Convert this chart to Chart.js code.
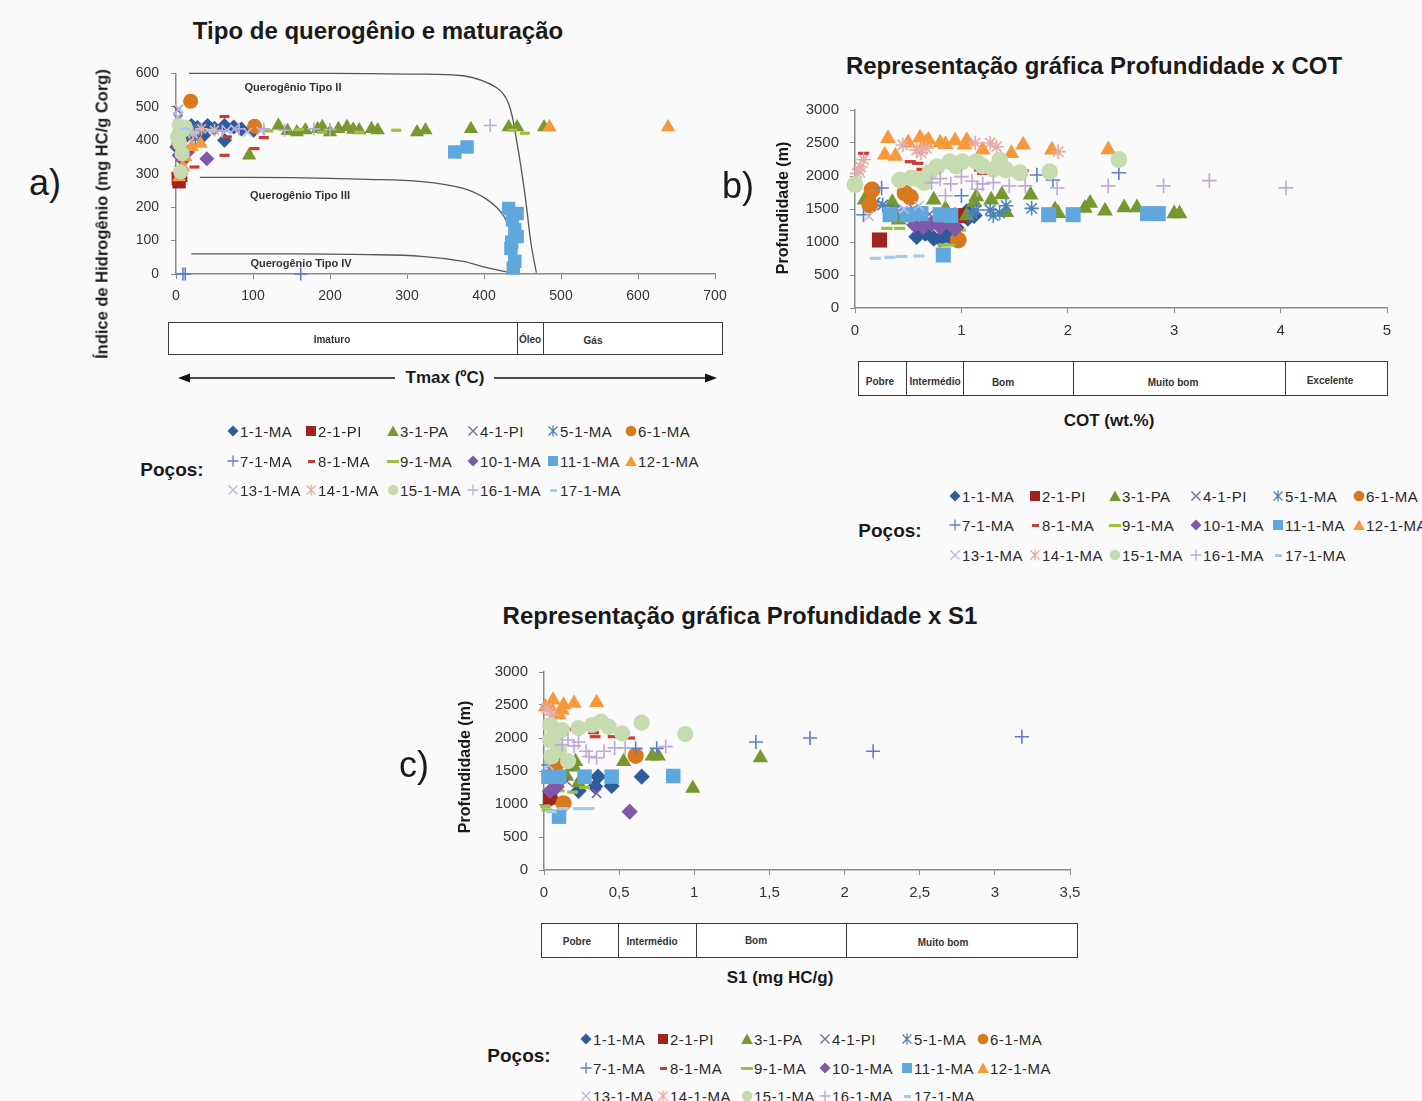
<!DOCTYPE html>
<html><head><meta charset="utf-8">
<script src="https://cdn.jsdelivr.net/npm/chart.js@4.4.0/dist/chart.umd.min.js"></script>
<style>
html,body{margin:0;padding:0}
body{background:#fafafa;width:1422px;height:1101px;overflow:hidden;position:relative;font-family:"Liberation Sans",Arial,sans-serif;color:#1a1a1a}
canvas{position:absolute}
.t{position:absolute;white-space:nowrap;transform:translate(-50%,-50%)}
.box{position:absolute;border:1px solid #3a3a3a;box-sizing:border-box;background:#fff}
.div{position:absolute;top:0;bottom:0;border-left:1px solid #3a3a3a}
.lg{position:absolute;white-space:nowrap;font-size:15px;letter-spacing:0.5px;color:#2a2a2a;transform:translateY(-50%)}
</style>
</head><body>
<script>
// ---------- categories / series ----------
const wells = ['1-1-MA','2-1-PI','3-1-PA','4-1-PI','5-1-MA','6-1-MA','7-1-MA','8-1-MA','9-1-MA','10-1-MA','11-1-MA','12-1-MA','13-1-MA','14-1-MA','15-1-MA','16-1-MA','17-1-MA'];
const wellColors = ['#2f5a9c','#a0231f','#76982f','#7e65a0','#4a82b8','#d9791d','#5b7fd0','#c93b33','#9cc13f','#7f58a8','#5fa7dc','#f7983a','#b7bbe2','#e6aba8','#c6dcb0','#bcaad6','#a5cce9'];
const wellMarkers = ['rectRot','rect','triangle','crossRot','star','circle','cross','line','line','rectRot','rect','triangle','crossRot','star','circle','cross','line'];

// tick labels
const ticksA_x = [0,100,200,300,400,500,600,700];
const ticksA_y = [0,100,200,300,400,500,600];
const ticksB_x = [0,1,2,3,4,5];
const ticksDepth = [0,500,1000,1500,2000,2500,3000];
const ticksC_x = [0,0.5,1,1.5,2,2.5,3,3.5];

// ---------- a) Tmax (ºC) x HI (mg HC/g Corg) ----------
const a_w01 = [[20,444],[41,444],[63,400],[63,444],[85,434],[101,430],[12,410],[6,430],[1,380],[36,415],[50,436],[75,440],[28,438]];
const a_w02 = [[3,286],[4,276],[6,295]];
const a_w03 = [[95,355],[133,444],[157,424],[168,430],[184,434],[200,424],[211,434],[222,440],[238,430],[254,434],[262,430],[313,424],[324,430],[383,434],[432,439],[443,439],[478,439],[145,428],[230,432],[190,440]];
const a_w04 = [[3,464],[4,310],[2,490],[10,430]];
const a_w05 = [[4,424],[17,430],[25,405],[8,415],[30,432]];
const a_w06 = [[19,517],[102,442],[4,390]];
const a_w07 = [[12,0],[162,0],[9,0]];
const a_w08 = [[63,471],[102,375],[63,355],[24,320],[114,408],[66,410],[40,430]];
const a_w09 = [[437,430],[453,421],[238,424],[286,430],[190,424],[120,428],[160,432]];
const a_w10 = [[40,345],[4,355],[9,340],[15,365]];
const a_w11 = [[362,365],[378,380],[432,196],[437,162],[443,112],[435,77],[440,38],[438,18],[443,181],[440,132],[436,95]];
const a_w12 = [[485,439],[639,439],[32,390],[9,320],[12,350],[4,290],[20,380]];
const a_w13 = [[4,494],[66,430],[93,424],[76,434],[2,470],[110,428]];
const a_w14 = [[12,424],[33,434],[50,430],[22,420]];
const a_w15 = [[4,444],[5,390],[6,305],[9,430],[2,410],[8,360],[12,440]];
const a_w16 = [[408,444],[114,434],[141,430],[179,434],[82,434],[60,428],[200,432]];
const a_w17 = [[12,434],[23,424],[45,430]];
// kerogen type boundary curves (Tmax, HI)
const curveTipoII  = [[17,600],[100,600],[200,600],[300,598],[373,593],[416,558],[432,509],[443,390],[453,241],[461,92],[468,4]];
const curveTipoIII = [[31,289],[150,288],[250,283],[319,276],[373,256],[405,221],[426,172],[437,102],[440,3]];
const curveTipoIV  = [[20,60],[150,60],[250,58],[319,53],[373,38],[405,18],[437,3]];

// ---------- b) COT (wt.%) x Profundidade (m) ----------
const b_w01 = [[0.58,1080],[0.74,1055],[0.86,1105],[1.05,1460],[1.06,1359],[0.95,1220],[0.66,1130],[0.8,1040],[0.9,1070],[1.12,1400]];
const b_w02 = [[0.23,1030],[0.98,1400]];
const b_w03 = [[0.09,1636],[0.41,1333],[0.74,1636],[1.14,1686],[1.28,1636],[1.38,1716],[1.65,1712],[1.91,1434],[1.88,1490],[2.16,1513],[2.21,1590],[2.35,1470],[2.53,1520],[2.65,1520],[3.0,1430],[3.05,1430],[0.35,1600],[0.85,1500],[1.05,1400],[1.42,1450],[1.12,1600]];
const b_w04 = [[0.38,1485],[0.63,1400],[0.55,1500],[0.9,1450],[0.7,1420]];
const b_w05 = [[0.36,1485],[0.58,1450],[1.14,1485],[1.27,1485],[1.36,1440],[1.66,1510],[1.1,1430],[0.19,1600],[0.26,1560],[1.3,1400],[1.42,1550]];
const b_w06 = [[0.16,1788],[0.14,1560],[0.47,1742],[0.97,1030],[0.52,1680]];
const b_w07 = [[0.25,1818],[0.08,1414],[1.71,2015],[1.86,1939],[2.48,2050],[1.0,1700]];
const b_w08 = [[0.08,2343],[0.52,2217],[0.59,2192],[0.63,2101],[1.17,2091],[1.25,2080],[1.34,2050],[1.58,2080],[1.2,2040]];
const b_w09 = [[0.3,1207],[0.42,1207],[0.99,1180],[0.89,955],[0.83,955],[0.6,1220]];
const b_w10 = [[0.56,1258],[0.64,1230],[0.72,1280],[0.8,1230],[0.91,1280],[0.94,1200]];
const b_w11 = [[0.33,1414],[0.49,1414],[0.8,1414],[0.83,803],[1.82,1414],[2.05,1414],[2.75,1430],[2.85,1430],[0.62,1430],[0.9,1400]];
const b_w12 = [[0.31,2571],[0.28,2318],[0.5,2500],[0.61,2576],[0.69,2545],[0.8,2500],[0.94,2535],[1.03,2470],[1.2,2394],[1.47,2343],[1.58,2470],[1.85,2394],[2.38,2400],[0.38,2300],[0.85,2480],[1.05,2540],[0.66,2500]];
const b_w13 = [[0.13,1390],[0.46,1500],[0.05,2050],[0.6,1550]];
const b_w14 = [[0.05,2141],[0.02,2040],[0.45,2470],[0.58,2394],[0.67,2420],[1.13,2500],[1.27,2500],[1.33,2444],[1.91,2369],[0.62,2350],[0.08,2250]];
const b_w15 = [[0.0,1868],[0.42,1939],[0.53,1970],[0.77,2141],[0.89,2217],[1.01,2217],[1.14,2217],[1.36,2242],[1.42,2091],[1.83,2066],[2.48,2250],[0.6,1950],[0.7,2050],[0.95,2150],[1.2,2150],[1.3,2100],[1.55,2050],[0.65,1900]];
const b_w16 = [[0.72,1900],[0.8,1960],[0.9,1880],[1.0,1990],[1.1,1920],[1.2,1880],[1.3,1900],[1.45,1850],[1.6,1850],[1.9,1818],[2.38,1850],[2.9,1850],[3.33,1930],[4.05,1820],[0.85,1700],[1.15,1800]];
const b_w17 = [[0.19,753],[0.33,768],[0.44,780],[0.6,788]];

// ---------- c) S1 (mg HC/g) x Profundidade (m) ----------
const c_w01 = [[0.36,1414],[0.65,1414],[0.45,1273],[0.34,1264],[0.05,1086],[0.23,1200]];
const c_w02 = [[0.04,1100]];
const c_w03 = [[0.21,1641],[0.53,1641],[0.72,1727],[0.76,1727],[0.99,1238],[1.44,1700],[0.15,1420],[0.09,1320],[0.23,1320],[0.2,1560]];
const c_w04 = [[0.35,1162],[0.15,1350]];
const c_w05 = [[0.03,1590],[0.07,1520]];
const c_w06 = [[0.61,1730],[0.13,1010],[0.08,1600]];
const c_w07 = [[0.61,1843],[0.75,1843],[1.41,1940],[1.77,2000],[2.19,1800],[3.18,2020]];
const c_w08 = [[0.18,2131],[0.23,2121],[0.33,2080],[0.46,2020],[0.57,2000],[0.34,2020]];
const c_w09 = [[0.01,960],[0.02,910],[0.1,1200],[0.19,1180],[0.27,1250]];
const c_w10 = [[0.57,883],[0.04,1197],[0.08,1250]];
const c_w11 = [[0.03,1414],[0.1,1414],[0.27,1414],[0.45,1414],[0.86,1424],[0.1,808]];
const c_w12 = [[0.01,2474],[0.06,2576],[0.12,2424],[0.13,2500],[0.2,2525],[0.35,2535],[0.1,2350],[0.04,2470]];
const c_w13 = [[0.02,2450],[0.03,1591]];
const c_w14 = [[0.02,2450],[0.05,2350]];
const c_w15 = [[0.04,2197],[0.04,1970],[0.05,1720],[0.1,1818],[0.32,2197],[0.38,2247],[0.43,2170],[0.52,2071],[0.65,2232],[0.94,2060],[0.12,2120],[0.23,2150],[0.16,1650],[0.08,2050]];
const c_w16 = [[0.16,1970],[0.23,1940],[0.2,1880],[0.3,1720],[0.35,1700],[0.47,1850],[0.54,1850],[0.81,1870],[0.12,1900],[0.28,1800],[0.4,1800]];
const c_w17 = [[0.05,883],[0.13,930],[0.23,930],[0.3,930]];

const seriesA = [a_w01,a_w02,a_w03,a_w04,a_w05,a_w06,a_w07,a_w08,a_w09,a_w10,a_w11,a_w12,a_w13,a_w14,a_w15,a_w16,a_w17];
const seriesB = [b_w01,b_w02,b_w03,b_w04,b_w05,b_w06,b_w07,b_w08,b_w09,b_w10,b_w11,b_w12,b_w13,b_w14,b_w15,b_w16,b_w17];
const seriesC = [c_w01,c_w02,c_w03,c_w04,c_w05,c_w06,c_w07,c_w08,c_w09,c_w10,c_w11,c_w12,c_w13,c_w14,c_w15,c_w16,c_w17];

// ---------- helpers ----------
const FONT = '"Liberation Sans", Arial, sans-serif';
const markerSize = {rectRot:7.5, rect:9.5, triangle:8.2, crossRot:6, star:6.5, circle:7.5, cross:6.5, line:5};
function wellDatasets(series, scale){
  return series.map((pts,i)=>{
    const st = wellMarkers[i];
    const stroke = (st==='cross'||st==='crossRot'||st==='star'||st==='line');
    return {
      label: wells[i],
      data: pts.map(p=>({x:p[0], y:p[1]})),
      pointStyle: st,
      pointRadius: markerSize[st]*scale,
      pointBackgroundColor: wellColors[i],
      pointBorderColor: wellColors[i],
      pointBorderWidth: st==='line' ? 3.2 : (stroke ? 1.6 : 0),
      showLine: false,
      clip: false,
      order: wells.length - i
    };
  });
}
function curveDataset(pts){
  return {data: pts.map(p=>({x:p[0],y:p[1]})), showLine:true, pointRadius:0, borderColor:'#555', borderWidth:1.3, tension:0.35, clip:false, order:100};
}
function makeChart(area, xs, ys, datasets, fontSize, ypad){
  const YW=80, XH=40, PT=20, PR=30;
  const left = area.L - YW, top = area.T - PT;
  const w = area.R - left + PR, h = area.B - top + XH;
  const cv = document.createElement('canvas');
  cv.width = w; cv.height = h;
  cv.style.left = left+'px'; cv.style.top = top+'px';
  cv.style.width = w+'px'; cv.style.height = h+'px';
  document.body.appendChild(cv);
  const axisCommon = {
    type:'linear',
    grid:{drawOnChartArea:false, drawTicks:true, tickLength:5, color:'#8a8a8a', lineWidth:1},
    border:{display:true, color:'#8a8a8a', width:1.5}
  };
  return new Chart(cv, {
    type:'scatter',
    data:{datasets},
    options:{
      responsive:false, animation:false, devicePixelRatio:1,
      layout:{padding:{left:0, top:PT, right:PR, bottom:0}},
      plugins:{legend:{display:false}, tooltip:{enabled:false}},
      scales:{
        x:Object.assign({}, axisCommon, {
          min:xs.ticks[0], max:xs.ticks[xs.ticks.length-1],
          afterFit:s=>{s.height=XH;},
          afterBuildTicks:s=>{s.ticks = xs.ticks.map(v=>({value:v}));},
          ticks:{padding:9, color:'#333', font:{family:FONT, size:fontSize}, callback:xs.fmt, maxRotation:0, autoSkip:false}
        }),
        y:Object.assign({}, axisCommon, {
          min:ys.ticks[0], max:ys.ticks[ys.ticks.length-1],
          afterFit:s=>{s.width=YW;},
          afterBuildTicks:s=>{s.ticks = ys.ticks.map(v=>({value:v}));},
          ticks:{padding:ypad, color:'#333', font:{family:FONT, size:fontSize}, callback:v=>String(v), autoSkip:false}
        })
      }
    }
  });
}
function txt(s, x, y, css, rot){
  const d = document.createElement('div');
  d.className='t'; d.textContent=s;
  d.style.cssText = 'left:'+x+'px;top:'+y+'px;'+(css||'');
  if(rot) d.style.transform='translate(-50%,-50%) rotate(-90deg)';
  document.body.appendChild(d); return d;
}
function classBox(L,T,R,B,divs,labels){
  const b = document.createElement('div');
  b.className='box';
  b.style.cssText='left:'+L+'px;top:'+T+'px;width:'+(R-L)+'px;height:'+(B-T)+'px;';
  divs.forEach(x=>{const d=document.createElement('div');d.className='div';d.style.left=(x-L-1)+'px';b.appendChild(d);});
  document.body.appendChild(b);
  labels.forEach(l=>txt(l[0], l[1], l[2], 'font-size:10px;font-weight:bold;color:#333;'));
}
function markerSVG(st,col){
  let s='';
  if(st==='rectRot') s='<polygon points="6,0.5 11.5,6 6,11.5 0.5,6" fill="'+col+'"/>';
  else if(st==='rect') s='<rect x="1" y="1" width="10" height="10" fill="'+col+'"/>';
  else if(st==='triangle') s='<polygon points="6,0.5 11.8,11 0.2,11" fill="'+col+'"/>';
  else if(st==='crossRot') s='<path d="M1.5,1.5L10.5,10.5M10.5,1.5L1.5,10.5" stroke="'+col+'" stroke-width="1.4"/>';
  else if(st==='star') s='<path d="M1.5,1.5L10.5,10.5M10.5,1.5L1.5,10.5M6,0.5L6,11.5" stroke="'+col+'" stroke-width="1.3"/>';
  else if(st==='circle') s='<circle cx="6" cy="6" r="5.3" fill="'+col+'"/>';
  else if(st==='cross') s='<path d="M6,0.5L6,11.5M0.5,6L11.5,6" stroke="'+col+'" stroke-width="1.3"/>';
  return '<svg width="12" height="12" style="position:absolute;left:-6px;top:-6px">'+s+'</svg>';
}
function legend(cols, rows, px, py){
  txt('Poços:', px, py, 'font-size:19px;font-weight:bold;color:#1a1a1a;');
  wells.forEach((w,i)=>{
    const cx = cols[i%6], cy = rows[Math.floor(i/6)];
    const m = document.createElement('div');
    m.style.cssText='position:absolute;left:'+cx+'px;top:'+cy+'px;width:0;height:0;';
    const st = wellMarkers[i];
    if(st==='line'){
      const wd = (w==='9-1-MA') ? 12 : 7;
      m.innerHTML='<div style="position:absolute;left:'+(-wd/2)+'px;top:-1.5px;width:'+wd+'px;height:3px;background:'+wellColors[i]+'"></div>';
    } else m.innerHTML = markerSVG(st, wellColors[i]);
    document.body.appendChild(m);
    const t = document.createElement('div');
    t.className='lg'; t.textContent=w;
    t.style.left=(cx+7)+'px'; t.style.top=cy+'px';
    document.body.appendChild(t);
  });
}

// ---------- chart a ----------
const dsA = wellDatasets(seriesA, 1.0).concat([curveDataset(curveTipoII), curveDataset(curveTipoIII), curveDataset(curveTipoIV)]);
makeChart({L:176,R:715,T:73,B:274}, {ticks:ticksA_x, fmt:v=>String(v)}, {ticks:ticksA_y}, dsA, 14, 12);
txt('Tipo de querogênio e maturação', 378, 31, 'font-size:24px;font-weight:bold;');
txt('Índice de Hidrogênio (mg HC/g Corg)', 102, 214, 'font-size:16.5px;font-weight:bold;', true);
txt('Querogênio Tipo II', 293, 87, 'font-size:11px;font-weight:bold;color:#333;');
txt('Querogênio Tipo III', 300, 195, 'font-size:11px;font-weight:bold;color:#333;');
txt('Querogênio Tipo IV', 301, 263, 'font-size:11px;font-weight:bold;color:#333;');
txt('a)', 45, 183, 'font-size:36px;');
classBox(168,322,723,355,[517,543],[['Imaturo',332,339],['Óleo',530,339],['Gás',593,340]]);
txt('Tmax (ºC)', 445, 378, 'font-size:17px;font-weight:bold;');
legend([233,311,393,473,553,631],[431,461,490],172,470);

// ---------- chart b ----------
makeChart({L:855,R:1387,T:110,B:308}, {ticks:ticksB_x, fmt:v=>String(v)}, {ticks:ticksDepth}, wellDatasets(seriesB,1.12), 15, 11);
txt('Representação gráfica Profundidade x COT', 1094, 66, 'font-size:24px;font-weight:bold;');
txt('Profundidade (m)', 783, 208, 'font-size:16px;font-weight:bold;', true);
txt('b)', 738, 186, 'font-size:36px;');
classBox(858,361,1388,396,[906,963,1073,1285],[['Pobre',880,381],['Intermédio',935,381],['Bom',1003,382],['Muito bom',1173,382],['Excelente',1330,380]]);
txt('COT (wt.%)', 1109, 421, 'font-size:17px;font-weight:bold;');
legend([955,1035,1115,1196,1278,1359],[496,525,555],890,531);

// ---------- chart c ----------
makeChart({L:544,R:1070,T:672,B:870}, {ticks:ticksC_x, fmt:v=>String(+v.toFixed(1)).replace('.',',')}, {ticks:ticksDepth}, wellDatasets(seriesC,1.08), 15, 11);
txt('Representação gráfica Profundidade x S1', 740, 616, 'font-size:24px;font-weight:bold;');
txt('Profundidade (m)', 465, 767, 'font-size:16px;font-weight:bold;', true);
txt('c)', 414, 765, 'font-size:36px;');
classBox(541,923,1078,958,[618,696,846],[['Pobre',577,941],['Intermédio',652,941],['Bom',756,940],['Muito bom',943,942]]);
txt('S1 (mg HC/g)', 780, 978, 'font-size:17px;font-weight:bold;');
legend([586,663,747,825,907,983],[1039,1068,1096],519,1056);

// ---------- Tmax arrow ----------
const svgNS='http://www.w3.org/2000/svg';
const sv=document.createElementNS(svgNS,'svg');
sv.setAttribute('width','1422');sv.setAttribute('height','1101');
sv.style.cssText='position:absolute;left:0;top:0;pointer-events:none';
sv.innerHTML='<line x1="186" y1="378" x2="395" y2="378" stroke="#111" stroke-width="1.3"/>'+
 '<line x1="494" y1="378" x2="708" y2="378" stroke="#111" stroke-width="1.3"/>'+
 '<polygon points="178,378 190,373.5 190,382.5" fill="#111"/>'+
 '<polygon points="717,378 705,373.5 705,382.5" fill="#111"/>';
document.body.appendChild(sv);
</script>
</body></html>
